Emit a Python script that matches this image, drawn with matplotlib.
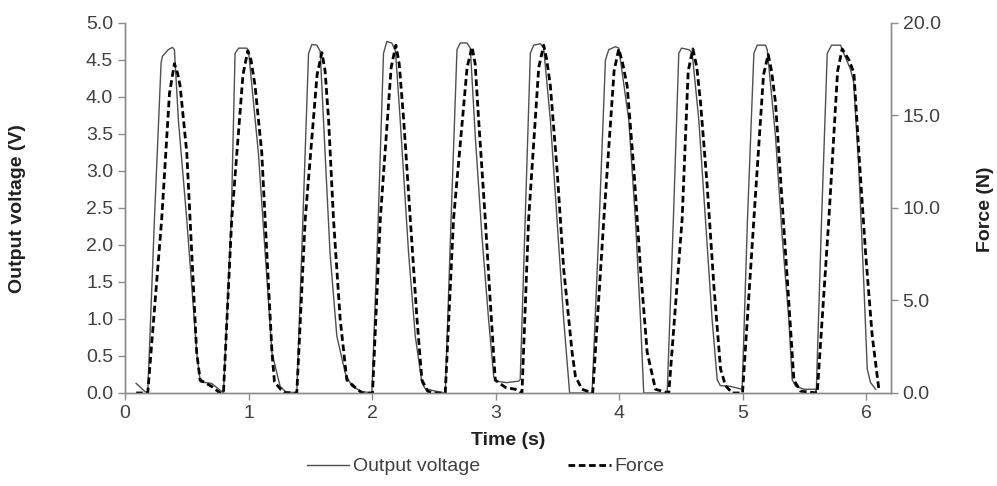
import matplotlib
matplotlib.use("Agg")
import matplotlib.pyplot as plt
from matplotlib.lines import Line2D

# ---- data ----
volt_t = [0.09, 0.16, 0.184, 0.238, 0.292, 0.303, 0.351, 0.384, 0.40, 0.432, 0.50, 0.581, 0.60, 0.61, 0.70, 0.783,
          0.797, 0.86, 0.891, 0.92, 0.986, 1.0, 1.08, 1.135, 1.19, 1.256, 1.30,
          1.391, 1.44, 1.486, 1.513, 1.553, 1.58, 1.62, 1.66, 1.715, 1.783, 1.837, 1.918,
          1.999, 2.05, 2.093, 2.12, 2.16, 2.19, 2.228, 2.296, 2.35, 2.404, 2.43, 2.50,
          2.593, 2.64, 2.688, 2.715, 2.769, 2.796, 2.836, 2.89, 2.944, 2.985, 3.0, 3.09, 3.187,
          3.20, 3.24, 3.282, 3.309, 3.363, 3.39, 3.444, 3.498, 3.552, 3.60, 3.70, 3.782,
          3.84, 3.89, 3.917, 3.971, 3.998, 4.079, 4.133, 4.174, 4.20, 4.30, 4.39,
          4.44, 4.484, 4.506, 4.565, 4.592, 4.646, 4.70, 4.754, 4.795, 4.82, 4.90, 4.997,
          5.04, 5.092, 5.119, 5.186, 5.20, 5.267, 5.321, 5.375, 5.402, 5.43, 5.50, 5.591,
          5.597, 5.64, 5.686, 5.721, 5.794, 5.807, 5.875, 5.90, 5.942, 5.983, 6.01, 6.037, 6.078]
volt_v = [0.13, 0.02, 0.0, 2.34, 4.46, 4.55, 4.64, 4.67, 4.64, 3.69, 2.34, 0.54, 0.27, 0.15, 0.13, 0.02,
          0.0, 2.34, 4.59, 4.66, 4.66, 4.62, 3.24, 1.89, 0.54, 0.09, 0.02,
          0.0, 2.34, 4.59, 4.71, 4.70, 4.62, 3.24, 1.89, 0.77, 0.27, 0.09, 0.02,
          0.0, 2.34, 4.59, 4.75, 4.73, 4.62, 3.69, 1.89, 0.77, 0.14, 0.06, 0.03,
          0.0, 2.34, 4.64, 4.73, 4.73, 4.66, 3.47, 2.12, 0.99, 0.23, 0.16, 0.14, 0.16,
          0.18, 2.34, 4.59, 4.70, 4.72, 4.66, 3.69, 2.34, 0.99, 0.0, 0.0, 0.0,
          2.34, 4.50, 4.64, 4.68, 4.66, 3.69, 2.34, 0.99, 0.0, 0.0, 0.0,
          2.34, 4.59, 4.66, 4.64, 4.60, 3.69, 2.34, 0.99, 0.18, 0.10, 0.09, 0.05,
          2.34, 4.59, 4.70, 4.70, 4.64, 3.47, 2.12, 0.99, 0.18, 0.09, 0.05, 0.05,
          0.0, 2.34, 4.59, 4.70, 4.70, 4.64, 4.37, 4.20, 3.02, 1.44, 0.32, 0.14, 0.05]

force_t = [0.09, 0.184, 0.297, 0.36, 0.40, 0.425, 0.446, 0.50, 0.54, 0.58, 0.608, 0.70, 0.77,
           0.797, 0.864, 0.955, 0.994, 1.02, 1.053, 1.107, 1.148, 1.19, 1.21, 1.26, 1.30,
           1.391, 1.459, 1.555, 1.594, 1.62, 1.648, 1.688, 1.742, 1.796, 1.864, 1.918,
           2.004, 2.067, 2.155, 2.193, 2.22, 2.256, 2.31, 2.364, 2.404, 2.45, 2.50,
           2.593, 2.66, 2.77, 2.81, 2.835, 2.863, 2.917, 2.958, 2.998, 3.08, 3.16, 3.214,
           3.268, 3.35, 3.39, 3.415, 3.444, 3.498, 3.552, 3.62, 3.647, 3.70, 3.787,
           3.877, 3.96, 3.998, 4.03, 4.066, 4.12, 4.174, 4.228, 4.295, 4.403,
           4.511, 4.56, 4.598, 4.63, 4.66, 4.714, 4.768, 4.822, 4.862, 4.916, 5.0,
           5.092, 5.17, 5.208, 5.235, 5.267, 5.321, 5.375, 5.416, 5.47, 5.605,
           5.699, 5.77, 5.807, 5.862, 5.902, 5.942, 5.996, 6.05, 6.104]
force_n = [0.0, 0.0, 9.4, 16.2, 17.8, 17.3, 16.6, 13.0, 7.6, 2.2, 0.7, 0.36, 0.0,
           0.0, 9.4, 17.2, 18.5, 18.0, 16.6, 13.0, 7.6, 2.2, 0.6, 0.2, 0.0,
           0.0, 9.4, 17.2, 18.4, 17.4, 14.8, 9.4, 4.0, 0.7, 0.3, 0.0,
           0.0, 9.4, 17.6, 18.8, 17.8, 14.8, 9.4, 4.0, 0.7, 0.1, 0.0,
           0.0, 9.4, 17.6, 18.7, 17.8, 14.8, 9.4, 4.9, 0.7, 0.3, 0.2, 0.0,
           9.4, 17.6, 18.8, 18.0, 16.6, 12.1, 6.7, 2.2, 0.9, 0.2, 0.0,
           9.4, 17.4, 18.6, 17.8, 16.6, 12.1, 6.7, 2.2, 0.2, 0.0,
           9.4, 17.4, 18.6, 17.6, 15.7, 11.2, 5.8, 1.3, 0.4, 0.0, 0.0,
           9.4, 17.2, 18.3, 17.4, 15.7, 10.3, 4.9, 0.7, 0.1, 0.0,
           9.4, 17.4, 18.6, 18.0, 17.3, 13.0, 7.6, 3.1, 0.2]

left_ticks = [0.0, 0.5, 1.0, 1.5, 2.0, 2.5, 3.0, 3.5, 4.0, 4.5, 5.0]
right_ticks = [0.0, 5.0, 10.0, 15.0, 20.0]
x_ticks = [0, 1, 2, 3, 4, 5, 6]

plt.rcParams['font.family'] = ['Liberation Sans', 'DejaVu Sans']

fig = plt.figure(figsize=(9.97, 4.86), dpi=100)
ax = fig.add_axes([0.1254, 0.1914, 0.768, 0.7613])
ax2 = ax.twinx()

tick_col = '#404040'
spine_col = '#8c8c8c'

ax.plot(volt_t, volt_v, color='#505050', lw=1.0)
ax2.plot(force_t, force_n, color='black', lw=2.0, dashes=(2.4, 1.3))

ax.set_xlim(0, 6.2)
ax.set_ylim(0, 5.0)
ax2.set_ylim(0, 20.0)
ax.set_xticks(x_ticks)
ax.set_yticks(left_ticks)
ax.set_yticklabels([f"{v:.1f}" for v in left_ticks])
ax2.set_yticks(right_ticks)
ax2.set_yticklabels([f"{v:.1f}" for v in right_ticks])

for a in (ax, ax2):
    a.spines['top'].set_visible(False)
    for s in ('left', 'right', 'bottom'):
        a.spines[s].set_color(spine_col)
        a.spines[s].set_linewidth(1.0)
    a.tick_params(colors=spine_col, labelcolor=tick_col, labelsize=14, length=5, width=1.0)

ax.set_xlabel('Time (s)', fontsize=14, fontweight='bold', color='#202020', labelpad=7)
fig.text(0.018, 0.57, 'Output voltage (V)', rotation=90, ha='center', va='center',
         fontsize=14, fontweight='bold', color='#202020')
fig.text(0.988, 0.57, 'Force (N)', rotation=90, ha='center', va='center',
         fontsize=14, fontweight='bold', color='#202020')

handles = [Line2D([], [], color='#505050', lw=1.0),
           Line2D([], [], color='black', lw=2.0, dashes=(2.4, 1.3))]
fig.legend(handles, ['Output voltage', 'Force'], loc='center', bbox_to_anchor=(0.487, 0.04),
           ncol=2, frameon=False, fontsize=14, handlelength=2.2, handletextpad=0.2,
           columnspacing=4.5, labelcolor=tick_col)

fig.savefig('out.png', dpi=100)
